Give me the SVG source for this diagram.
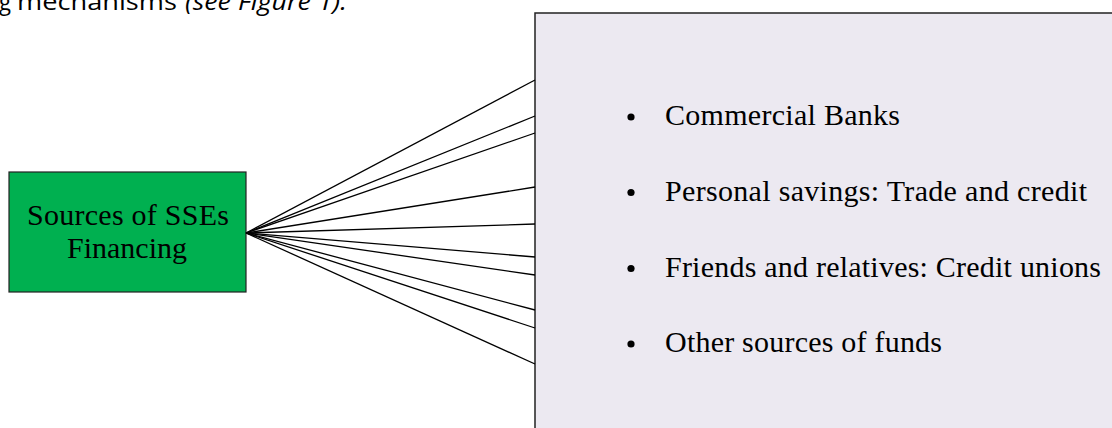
<svg xmlns="http://www.w3.org/2000/svg" width="1112" height="428" viewBox="0 0 1112 428">
<style>
.serif{font-family:"Liberation Serif","Times New Roman",serif;font-size:30px;fill:#000}
.body{font-family:"Open Sans","Noto Sans","Liberation Sans",sans-serif;font-size:23px;fill:#000}
.conn line{stroke:#000;stroke-width:1.3}
.dot{fill:#000}
</style>
<rect width="1112" height="428" fill="#fff"/>
<text class="body" y="10"><tspan x="-1" textLength="12" lengthAdjust="spacingAndGlyphs">g</tspan><tspan x="17" textLength="160" lengthAdjust="spacingAndGlyphs">mechanisms</tspan><tspan x="185" font-style="italic" textLength="162" lengthAdjust="spacingAndGlyphs">(see Figure 1).</tspan></text>
<g id="panel">
<rect x="535" y="13" width="600" height="440" fill="#ECE9F1" stroke="#222" stroke-width="1.5"/>
<circle class="dot" cx="631" cy="117" r="3.6"/>
<text class="serif" x="665" y="125" textLength="235" lengthAdjust="spacing">Commercial Banks</text>
<circle class="dot" cx="631" cy="192.5" r="3.6"/>
<text class="serif" x="665" y="200.5" textLength="422" lengthAdjust="spacing">Personal savings: Trade and credit</text>
<circle class="dot" cx="631" cy="268.5" r="3.6"/>
<text class="serif" x="665" y="276.5" textLength="436" lengthAdjust="spacing">Friends and relatives: Credit unions</text>
<circle class="dot" cx="631" cy="344" r="3.6"/>
<text class="serif" x="665" y="351.5" textLength="277" lengthAdjust="spacing">Other sources of funds</text>
</g>
<g id="source">
<rect x="9" y="172" width="237" height="120" fill="#00B050" stroke="#222" stroke-width="1.2"/>
<text class="serif" x="128" y="225" text-anchor="middle" textLength="202" lengthAdjust="spacing">Sources of SSEs</text>
<text class="serif" x="127" y="258" text-anchor="middle">Financing</text>
</g>
<g id="connectors" class="conn">
<line x1="246" y1="233" x2="535" y2="80"/>
<line x1="246" y1="233" x2="535" y2="116"/>
<line x1="246" y1="233" x2="535" y2="133"/>
<line x1="246" y1="233" x2="535" y2="187"/>
<line x1="246" y1="233" x2="535" y2="224"/>
<line x1="246" y1="233" x2="535" y2="257"/>
<line x1="246" y1="233" x2="535" y2="275"/>
<line x1="246" y1="233" x2="535" y2="310"/>
<line x1="246" y1="233" x2="535" y2="328"/>
<line x1="246" y1="233" x2="535" y2="364"/>
</g>
</svg>
